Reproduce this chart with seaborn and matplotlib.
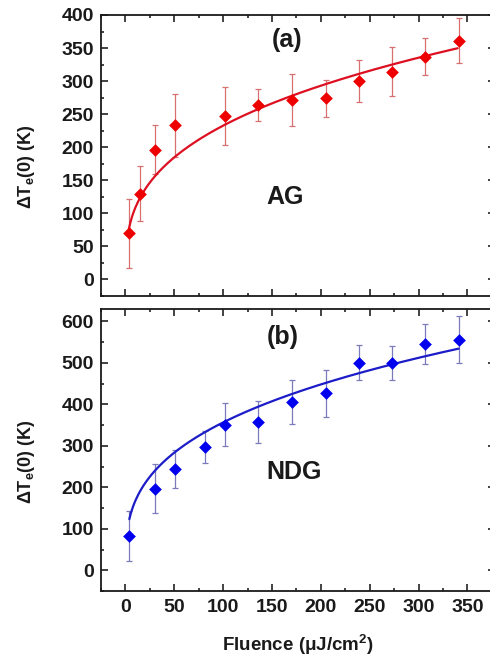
import numpy as np
import pandas as pd
import matplotlib
matplotlib.use("Agg")
import matplotlib.pyplot as plt
from matplotlib.ticker import MultipleLocator
import seaborn as sns

# ---- measured electron temperature rise vs. pump fluence ----
fluence_ag = [3.4, 15, 30, 51, 102, 136, 170, 205, 239, 273, 307, 341]
dte_ag = [70, 130, 196, 233, 247, 264, 271, 274, 300, 314, 337, 361]
err_ag = [52, 41, 37, 48, 44, 24, 39, 28, 32, 37, 28, 34]

fluence_ndg = [3.4, 30, 51, 81, 102, 136, 170, 205, 239, 273, 307, 341]
dte_ndg = [83, 197, 244, 298, 351, 357, 406, 427, 501, 499, 545, 556]
err_ndg = [60, 60, 45, 39, 52, 50, 53, 57, 42, 41, 48, 56]

# power-law fits  dT = A * F**p
fit_ag_amp, fit_ag_exp = 50.2, 0.333
fit_ndg_amp, fit_ndg_exp = 78.0, 0.330
fit_range_ag = (3.4, 340)
fit_range_ndg = (4.0, 341)

x_ticks = [0, 50, 100, 150, 200, 250, 300, 350]

sns.set_theme(style="ticks")
plt.rcParams["font.family"] = ["Liberation Sans", "DejaVu Sans"]
plt.rcParams["font.weight"] = "bold"
plt.rcParams["mathtext.fontset"] = "custom"
plt.rcParams["mathtext.rm"] = "Liberation Sans:bold"
plt.rcParams["mathtext.bf"] = "Liberation Sans:bold"
plt.rcParams["mathtext.it"] = "Liberation Sans:bold"
plt.rcParams["mathtext.default"] = "bf"

fig = plt.figure(figsize=(4.9, 6.6), dpi=100)
fig.patch.set_facecolor("white")
# the right-hand frame runs just past the figure edge
ax_a = fig.add_axes([0.2061, 0.5515, 0.8036, 0.4258])
ax_b = fig.add_axes([0.2061, 0.1045, 0.8036, 0.4273])


def draw_panel(ax, fx, fy, ferr, amp, expo, frange, mcol, ecol, lcol):
    df = pd.DataFrame({"F": fx, "dT": fy})
    xs = np.linspace(frange[0], frange[1], 400)
    fit = pd.DataFrame({"F": xs, "dT": amp * xs ** expo})
    ax.errorbar(fx, fy, yerr=ferr, fmt="none", ecolor=ecol, elinewidth=0.9,
                capsize=2.3, capthick=0.9, zorder=2)
    sns.lineplot(data=fit, x="F", y="dT", ax=ax, color=lcol, linewidth=1.6,
                 zorder=3)
    sns.scatterplot(data=df, x="F", y="dT", ax=ax, marker="D", s=42,
                    color=mcol, edgecolor=mcol, linewidth=0, zorder=4)


draw_panel(ax_a, fluence_ag, dte_ag, err_ag, fit_ag_amp, fit_ag_exp,
           fit_range_ag, "#ee0000", "#d87070", "#dd1022")
draw_panel(ax_b, fluence_ndg, dte_ndg, err_ndg, fit_ndg_amp, fit_ndg_exp,
           fit_range_ndg, "#0000ee", "#7b7bbb", "#1c1cc8")

ax_a.set_ylim(-25, 400)
ax_b.set_ylim(-50, 630)
ax_a.yaxis.set_major_locator(MultipleLocator(50))
ax_a.yaxis.set_minor_locator(MultipleLocator(25))
ax_b.yaxis.set_major_locator(MultipleLocator(100))
ax_b.yaxis.set_minor_locator(MultipleLocator(50))

for ax in (ax_a, ax_b):
    ax.set_xlim(-25, 378)
    ax.set_xticks(x_ticks)
    ax.xaxis.set_minor_locator(MultipleLocator(25))
    ax.tick_params(which="both", direction="in", top=True, right=True,
                   width=1.2, colors="#222222")
    ax.tick_params(which="major", length=5)
    ax.tick_params(which="minor", length=2.5)
    ax.tick_params(axis="y", labelsize=14, pad=5, labelcolor="#1a1a1a")
    ax.tick_params(axis="x", labelsize=14, pad=6, labelcolor="#1a1a1a")
    for sp in ax.spines.values():
        sp.set_linewidth(1.3)
        sp.set_color("#1a1a1a")
    ax.set_ylabel(r"$\Delta$T$_\mathregular{e}$(0) (K)", fontsize=13,
                  fontweight="bold", color="#1a1a1a")
    ax.yaxis.set_label_coords(-0.162, 0.46)
    ax.set_facecolor("white")

ax_a.set_xlabel("")
ax_a.tick_params(axis="x", labelbottom=False)
ax_b.set_xlabel(r"Fluence ($\mu$J/cm$^2$)", fontsize=13.5, fontweight="bold",
                color="#1a1a1a")
ax_b.xaxis.set_label_coords(0.5, -0.148)

ax_a.text(165, 362, "(a)", fontsize=18, fontweight="bold", ha="center",
          va="center", color="#1a1a1a")
ax_a.text(163, 125, "AG", fontsize=18, fontweight="bold", ha="center",
          va="center", color="#1a1a1a")
ax_b.text(161, 563, "(b)", fontsize=18, fontweight="bold", ha="center",
          va="center", color="#1a1a1a")
ax_b.text(173, 237, "NDG", fontsize=18, fontweight="bold", ha="center",
          va="center", color="#1a1a1a")

fig.savefig("out.png", dpi=100, facecolor="white")
